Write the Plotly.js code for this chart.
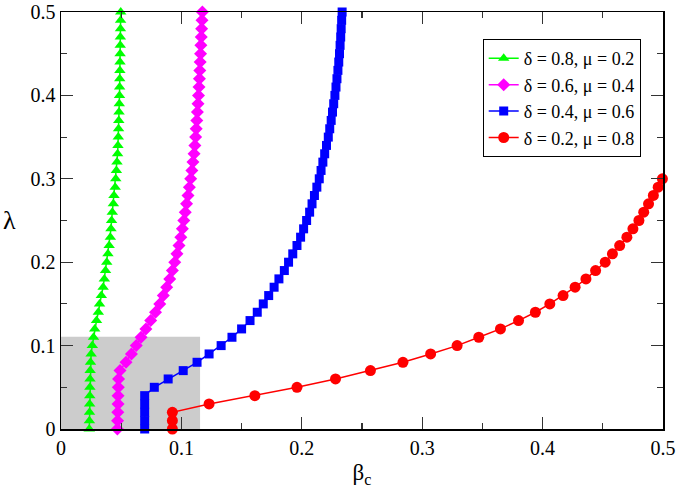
<!DOCTYPE html>
<html>
<head>
<meta charset="utf-8">
<script src="https://cdn.plot.ly/plotly-3.0.1.min.js"></script>
<style>html,body{margin:0;padding:0;background:#fff;}#chart{width:677px;height:490px;}</style>
</head>
<body>
<div id="chart"></div>
<script>
// lambda values (step 0.01)
const lambdaFull = [0,0.01,0.02,0.03,0.04,0.05,0.06,0.07,0.08,0.09,0.10,0.11,0.12,0.13,0.14,0.15,0.16,0.17,0.18,0.19,0.20,0.21,0.22,0.23,0.24,0.25,0.26,0.27,0.28,0.29,0.30,0.31,0.32,0.33,0.34,0.35,0.36,0.37,0.38,0.39,0.40,0.41,0.42,0.43,0.44,0.45,0.46,0.47,0.48,0.49,0.50];
const lambdaRed = [0,0.01,0.02,0.03,0.04,0.05,0.06,0.07,0.08,0.09,0.10,0.11,0.12,0.13,0.14,0.15,0.16,0.17,0.18,0.19,0.20,0.21,0.22,0.23,0.24,0.25,0.26,0.27,0.28,0.29,0.30];

// beta_c values per series
const betaGreen = [0.0235,0.0236,0.0237,0.0238,0.0239,0.0240,0.0241,0.0242,0.0245,0.0250,0.0260,0.0270,0.0280,0.0295,0.0310,0.0320,0.0335,0.0350,0.0360,0.0370,0.0380,0.0390,0.0400,0.0410,0.0415,0.0420,0.0426,0.0435,0.0440,0.0450,0.0455,0.0460,0.0465,0.0470,0.0473,0.0476,0.0478,0.0480,0.0482,0.0484,0.0486,0.0487,0.0488,0.0489,0.0490,0.0491,0.0492,0.0493,0.0494,0.0495,0.0496];
const betaMagenta = [0.0468,0.0470,0.0472,0.0474,0.0474,0.0476,0.0478,0.0490,0.0540,0.0585,0.0625,0.0665,0.0705,0.0745,0.0785,0.0820,0.0850,0.0878,0.0903,0.0925,0.0945,0.0963,0.0980,0.0995,0.1008,0.1020,0.1032,0.1043,0.1055,0.1066,0.1077,0.1087,0.1096,0.1105,0.1112,0.1118,0.1123,0.1128,0.1133,0.1138,0.1142,0.1146,0.1150,0.1153,0.1156,0.1159,0.1162,0.1165,0.1168,0.1171,0.1174];
const betaBlue = [0.0695,0.0695,0.0695,0.0695,0.0695,0.0775,0.0890,0.1015,0.1130,0.1230,0.1330,0.1420,0.1500,0.1570,0.1630,0.1680,0.1725,0.1770,0.1810,0.1855,0.1890,0.1925,0.1960,0.1990,0.2015,0.2040,0.2065,0.2085,0.2105,0.2125,0.2145,0.2160,0.2175,0.2190,0.2205,0.2220,0.2232,0.2244,0.2255,0.2265,0.2275,0.2284,0.2292,0.2300,0.2307,0.2313,0.2318,0.2323,0.2327,0.2331,0.2335];
const betaRed = [0.0925,0.0925,0.0925,0.123,0.161,0.196,0.228,0.257,0.284,0.307,0.329,0.347,0.365,0.380,0.394,0.406,0.417,0.427,0.436,0.444,0.452,0.458,0.464,0.470,0.475,0.480,0.484,0.488,0.492,0.496,0.4995];

const seriesNames = ["δ = 0.8, μ = 0.2","δ = 0.6, μ = 0.4","δ = 0.4, μ = 0.6","δ = 0.2, μ = 0.8"];

// tick labels
const tickValues = [0, 0.1, 0.2, 0.3, 0.4, 0.5];
const tickLabels = ["0", "0.1", "0.2", "0.3", "0.4", "0.5"];

// shaded region
const shadeBeta = 0.1155;
const shadeLambda = 0.1107;

const serif = "Liberation Serif, DejaVu Serif";

const traces = [
  {x: betaGreen, y: lambdaFull, name: seriesNames[0], mode: "lines+markers", cliponaxis: false,
   line: {color: "#00ff00", width: 1.5}, marker: {symbol: "triangle-up", size: 10, color: "#00ff00"}},
  {x: betaMagenta, y: lambdaFull, name: seriesNames[1], mode: "lines+markers", cliponaxis: false,
   line: {color: "#ff00ff", width: 1.5}, marker: {symbol: "diamond", size: 10, color: "#ff00ff"}},
  {x: betaBlue, y: lambdaFull, name: seriesNames[2], mode: "lines+markers", cliponaxis: false,
   line: {color: "#0000ff", width: 1.5}, marker: {symbol: "square", size: 9, color: "#0000ff"}},
  {x: betaRed, y: lambdaRed, name: seriesNames[3], mode: "lines+markers", cliponaxis: false,
   line: {color: "#ff0000", width: 1.5}, marker: {symbol: "circle", size: 11, color: "#ff0000"}}
];

const axisCommon = {
  range: [0, 0.5], tickmode: "array", tickvals: tickValues, ticktext: tickLabels,
  showgrid: false, zeroline: false, ticklabeloverflow: "allow",
  showline: true, linecolor: "#000", linewidth: 1.5, mirror: "ticks",
  ticks: "inside", ticklen: 12, tickwidth: 1.2, tickcolor: "#333",
  minor: {dtick: 0.05, tick0: 0, ticks: "inside", ticklen: 6, tickwidth: 1.2, tickcolor: "#333", showgrid: false},
  tickfont: {family: serif, size: 20, color: "#000"}
};

const layout = {
  width: 677, height: 490,
  margin: {l: 61, r: 14, t: 12, b: 60.5},
  paper_bgcolor: "#fff", plot_bgcolor: "#fff",
  font: {family: serif, color: "#000"},
  showlegend: true,
  legend: {x: 0.7005, y: 0.935, xanchor: "left", yanchor: "top",
           bordercolor: "#000", borderwidth: 1, bgcolor: "#fff",
           font: {family: serif, size: 18, color: "#000"}, tracegroupgap: 0},
  xaxis: Object.assign({}, axisCommon, {
    title: {text: "β<sub>c</sub>", font: {family: serif, size: 23, color: "#000"}, standoff: 6}
  }),
  yaxis: Object.assign({}, axisCommon),
  shapes: [{type: "rect", xref: "x", yref: "y", x0: 0, x1: shadeBeta, y0: 0, y1: shadeLambda,
            fillcolor: "#cccccc", line: {width: 0}, layer: "below"}],
  annotations: [{text: "λ", xref: "paper", yref: "paper", x: -0.085, y: 0.5, showarrow: false,
                 xanchor: "center", yanchor: "middle", font: {family: serif, size: 26, color: "#000"}}]
};

Plotly.newPlot("chart", traces, layout, {displayModeBar: false, staticPlot: true});
</script>
</body>
</html>
